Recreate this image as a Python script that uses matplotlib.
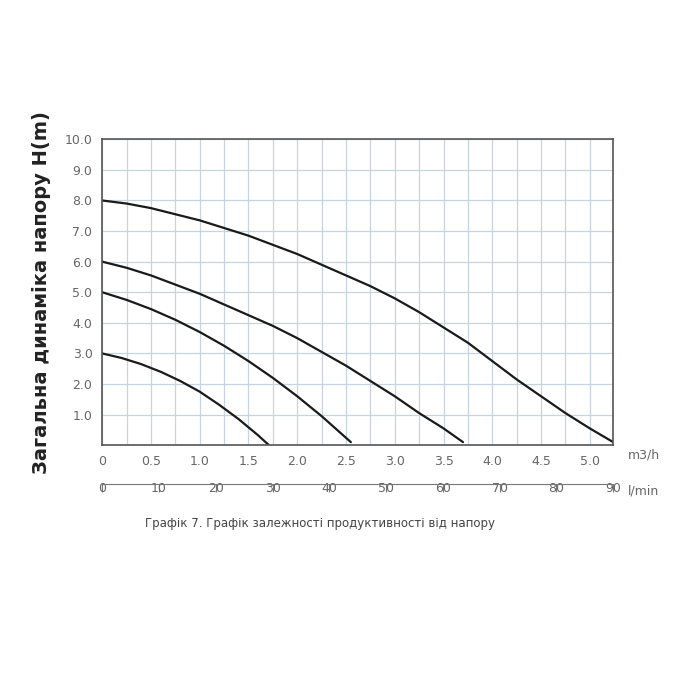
import numpy as np
import matplotlib.pyplot as plt

# curves: flow (m3/h) vs head (m)
q1 = [0.0, 0.2, 0.4, 0.6, 0.8, 1.0, 1.2, 1.4, 1.6, 1.71]
h1 = [3.0, 2.85, 2.65, 2.4, 2.1, 1.75, 1.32, 0.85, 0.32, 0.0]
q2 = [0.0, 0.25, 0.5, 0.75, 1.0, 1.25, 1.5, 1.75, 2.0, 2.25, 2.55]
h2 = [5.0, 4.75, 4.45, 4.1, 3.7, 3.25, 2.75, 2.2, 1.6, 0.95, 0.1]
q3 = [0.0, 0.25, 0.5, 0.75, 1.0, 1.25, 1.5, 1.75, 2.0, 2.25, 2.5, 2.75, 3.0, 3.25, 3.5, 3.7]
h3 = [6.0, 5.8, 5.55, 5.25, 4.95, 4.6, 4.25, 3.9, 3.5, 3.05, 2.6, 2.1, 1.6, 1.05, 0.55, 0.1]
q4 = [0.0, 0.25, 0.5, 0.75, 1.0, 1.25, 1.5, 1.75, 2.0, 2.25, 2.5, 2.75, 3.0,
      3.25, 3.5, 3.75, 4.0, 4.25, 4.5, 4.75, 5.0, 5.24]
h4 = [8.0, 7.9, 7.75, 7.55, 7.35, 7.1, 6.85, 6.55, 6.25, 5.9, 5.55, 5.2, 4.8,
      4.35, 3.85, 3.35, 2.75, 2.15, 1.6, 1.05, 0.55, 0.1]

x_ticks = [0, 0.5, 1.0, 1.5, 2.0, 2.5, 3.0, 3.5, 4.0, 4.5, 5.0]
x_labels = ["0", "0.5", "1.0", "1.5", "2.0", "2.5", "3.0", "3.5", "4.0", "4.5", "5.0"]
y_ticks = [1, 2, 3, 4, 5, 6, 7, 8, 9, 10]
lmin_ticks = [0, 10, 20, 30, 40, 50, 60, 70, 80, 90]

XMAX = 5.24
GREY = "#666666"
GRID = "#c8d3e0"

fig = plt.figure(figsize=(7, 7), dpi=100)
ax = fig.add_axes([0.146, 0.364, 0.730, 0.437])

for q, h in [(q1, h1), (q2, h2), (q3, h3), (q4, h4)]:
    ax.plot(q, h, color="#1a1a1a", lw=1.6, solid_capstyle="round")

ax.set_xlim(0, XMAX)
ax.set_ylim(0, 10)
ax.set_xticks(np.arange(0, XMAX, 0.25), minor=True)
ax.set_xticks(x_ticks)
ax.set_xticklabels(x_labels)
ax.set_yticks(y_ticks)
ax.set_yticklabels([f"{v:.1f}" for v in y_ticks])
ax.grid(which="both", axis="x", color=GRID, lw=0.9)
ax.grid(which="major", axis="y", color=GRID, lw=0.9)
ax.tick_params(which="both", length=0, colors=GREY, labelsize=9, pad=7)
for s in ax.spines.values():
    s.set_color("#555555")
    s.set_linewidth(1.2)
ax.set_ylabel("Загальна динаміка напору H(m)", fontsize=14, fontweight="bold",
              color="#222222", labelpad=10)
fig.text(0.897, 0.350, "m3/h", color=GREY, fontsize=9, va="center")

# second scale in l/min
ax2 = fig.add_axes([0.146, 0.308, 0.730, 0.001])
ax2.set_xlim(0, 90)
ax2.set_xticks(lmin_ticks)
ax2.set_yticks([])
for k in ["left", "right", "bottom"]:
    ax2.spines[k].set_visible(False)
ax2.spines["top"].set_color("#777777")
ax2.xaxis.set_ticks_position("top")
ax2.tick_params(axis="x", direction="in", length=6, colors="#777777",
                labelcolor=GREY, labelsize=9, labeltop=False, labelbottom=True, pad=-2)
fig.text(0.897, 0.298, "l/min", color=GREY, fontsize=9, va="center")

fig.text(0.457, 0.247, "Графік 7. Графік залежності продуктивності від напору",
         ha="center", color="#444444", fontsize=8.5)

fig.savefig("out.png", dpi=100)
